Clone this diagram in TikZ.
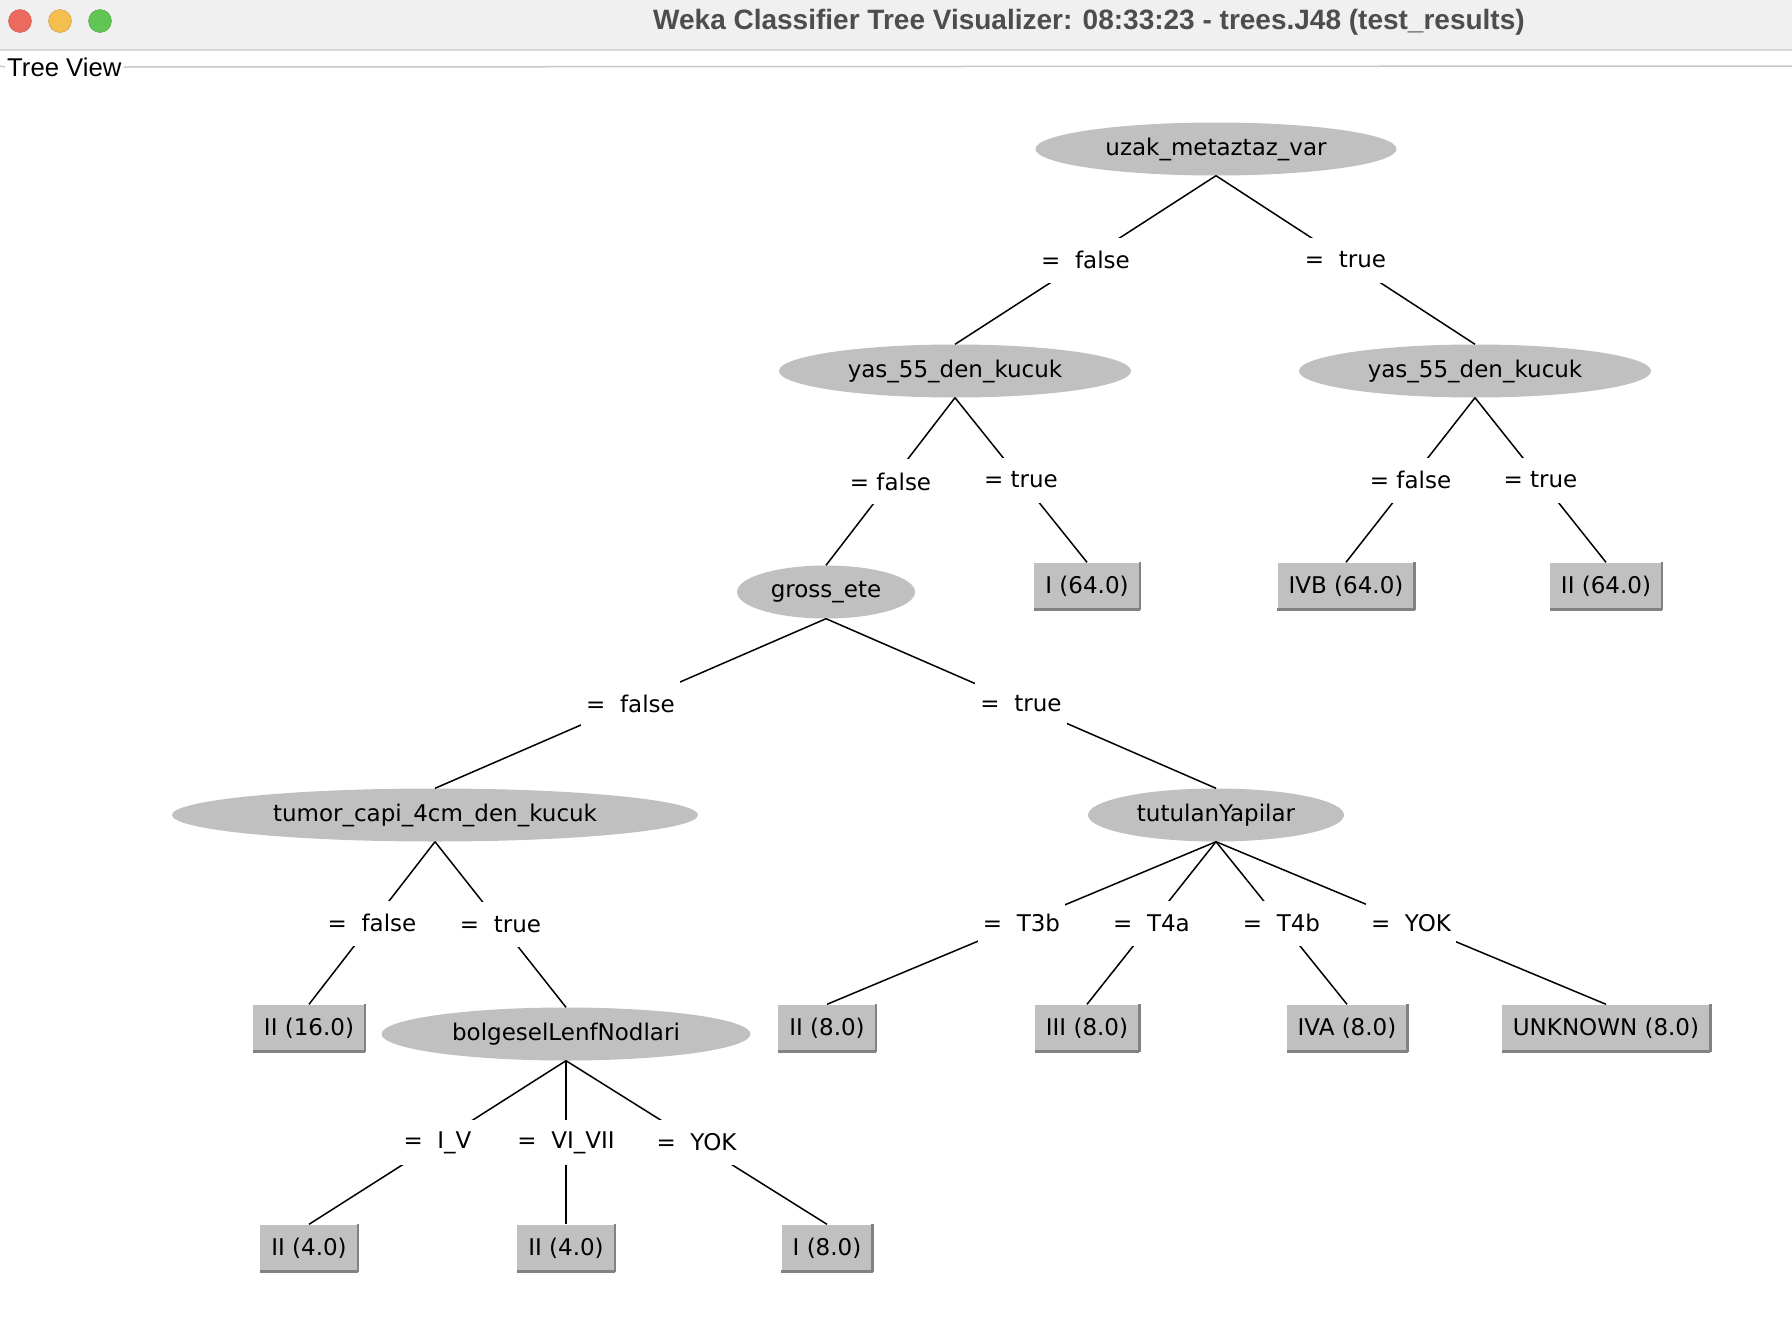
\documentclass[tikz,border=0pt]{standalone}
\usepackage{fontspec}
\setmainfont{DejaVu Sans}
\newfontfamily\winfont{Liberation Sans}
\usepackage{tikz}
\usetikzlibrary{shapes.geometric}

\definecolor{nodegray}{RGB}{192,192,192}
\definecolor{rimgray}{RGB}{130,130,130}
\definecolor{bargray}{RGB}{240,240,240}
\definecolor{barline}{RGB}{214,214,214}
\definecolor{titlegray}{RGB}{77,77,77}
\definecolor{framegray}{RGB}{200,200,200}
\definecolor{redlight}{RGB}{237,106,94}
\definecolor{yellowlight}{RGB}{245,191,79}
\definecolor{greenlight}{RGB}{97,197,84}

\begin{document}
\begin{tikzpicture}[
  x=1pt, y=-1pt,
  treefont/.style={font=\fontsize{23}{27}\selectfont},
  attr/.style={ellipse, fill=nodegray, inner sep=0pt, minimum height=53, treefont},
  rim/.style={draw=rimgray, line width=2.5},
  leaf/.style={rectangle, fill=nodegray, minimum height=47, inner xsep=11, inner ysep=0pt, treefont,
    append after command={(\tikzlastnode.north east) edge[rim] (\tikzlastnode.south east)
                          (\tikzlastnode.south east) edge[rim] (\tikzlastnode.south west)}},
  branch/.style={line width=1.5},
  lbl/.style={fill=white, inner xsep=5, inner ysep=0pt, minimum height=45, treefont},
  light/.style={circle, minimum size=23, inner sep=0pt, draw=#1!80!black, fill=#1}
]
\useasboundingbox (0,0) rectangle (1792,1320);
\fill[white] (0,0) rectangle (1792,1320);

% Window title bar
\fill[bargray] (0,0) rectangle (1792,50);
\draw[barline, line width=1.5] (0,50) -- (1792,50);
\node[light=redlight] (close) at (20,21) {};
\node[light=yellowlight] (mini) at (60,21) {};
\node[light=greenlight] (zoom) at (100,21) {};
\node[text=titlegray, font=\winfont\bfseries\fontsize{28}{32}\selectfont] (title) at (1089,22)
  {Weka Classifier Tree Visualizer: 08:33:23 - trees.J48 (test\_results)};

% Tree View frame
\node[anchor=west, inner sep=2pt, font=\winfont\fontsize{25.7}{30}\selectfont] (tv) at (5,67) {Tree View};
\draw[framegray, line width=1.5] (0,66) -- (tv.west);
\draw[framegray, line width=1.5] (tv.east) -- (1792,66);

% Attribute nodes
\node[attr, minimum width=361] (root) at (1216,149) {uzak\_metaztaz\_var};
\node[attr, minimum width=352] (yasF) at (955,371) {yas\_55\_den\_kucuk};
\node[attr, minimum width=352] (yasT) at (1475,371) {yas\_55\_den\_kucuk};
\node[attr, minimum width=178] (gross) at (826,592) {gross\_ete};
\node[attr, minimum width=526] (tumor) at (435,815) {tumor\_capi\_4cm\_den\_kucuk};
\node[attr, minimum width=256] (tutulan) at (1216,815) {tutulanYapilar};
\node[attr, minimum width=369] (bolg) at (566,1034) {bolgeselLenfNodlari};

% Leaves
\node[leaf] (l64a) at (1087,586) {I (64.0)};
\node[leaf] (l64b) at (1346,586) {IVB (64.0)};
\node[leaf] (l64c) at (1606,586) {II (64.0)};
\node[leaf] (l16) at (309,1028) {II (16.0)};
\node[leaf] (l8a) at (827,1028) {II (8.0)};
\node[leaf] (l8b) at (1087,1028) {III (8.0)};
\node[leaf] (l8c) at (1347,1028) {IVA (8.0)};
\node[leaf] (l8d) at (1606,1028) {UNKNOWN (8.0)};
\node[leaf] (l4a) at (309,1248) {II (4.0)};
\node[leaf] (l4b) at (566,1248) {II (4.0)};
\node[leaf] (l8e) at (827,1248) {I (8.0)};

% Branches
\draw[branch] (root.south) -- node[lbl] {=\ \ false} (yasF.north);
\draw[branch] (root.south) -- node[lbl] {=\ \ true} (yasT.north);
\draw[branch] (yasF.south) -- node[lbl] {= false} (gross.north);
\draw[branch] (yasF.south) -- node[lbl] {= true} (l64a.north);
\draw[branch] (yasT.south) -- node[lbl] {= false} (l64b.north);
\draw[branch] (yasT.south) -- node[lbl] {= true} (l64c.north);
\draw[branch] (gross.south) -- node[lbl] {=\ \ false} (tumor.north);
\draw[branch] (gross.south) -- node[lbl] {=\ \ true} (tutulan.north);
\draw[branch] (tumor.south) -- node[lbl] {=\ \ false} (l16.north);
\draw[branch] (tumor.south) -- node[lbl] {=\ \ true} (bolg.north);
\draw[branch] (tutulan.south) -- node[lbl] {=\ \ T3b} (l8a.north);
\draw[branch] (tutulan.south) -- node[lbl] {=\ \ T4a} (l8b.north);
\draw[branch] (tutulan.south) -- node[lbl] {=\ \ T4b} (l8c.north);
\draw[branch] (tutulan.south) -- node[lbl] {=\ \ YOK} (l8d.north);
\draw[branch] (bolg.south) -- node[lbl] {=\ \ I\_V} (l4a.north);
\draw[branch] (bolg.south) -- node[lbl] {=\ \ VI\_VII} (l4b.north);
\draw[branch] (bolg.south) -- node[lbl] {=\ \ YOK} (l8e.north);

\end{tikzpicture}
\end{document}
